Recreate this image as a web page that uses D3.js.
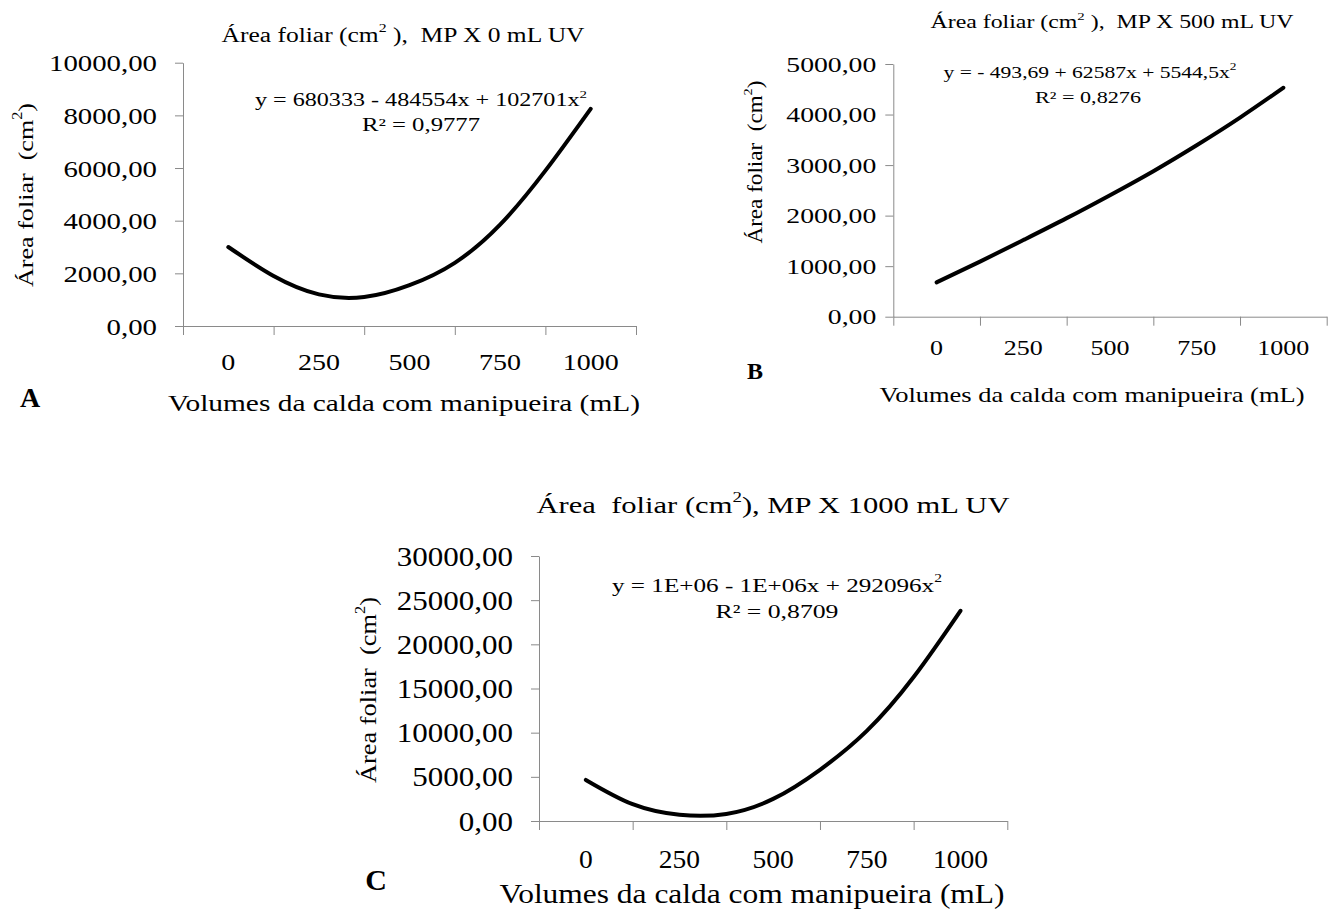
<!DOCTYPE html>
<html>
<head>
<meta charset="utf-8">
<script src="https://cdn.jsdelivr.net/npm/d3@7"></script>
<style>
  body { margin: 0; background: #fff; }
</style>
</head>
<body>
<div id="chart"></div>
<script>
// categories on the x axis (mL) and the volumes where the trend curves were read
const categories = [0, 250, 500, 750, 1000];
const volumes = [0, 125, 250, 375, 500, 625, 750, 875, 1000];

// leaf area (cm2)
const areaA = [3000, 1900, 1200, 1100, 1550, 2400, 3850, 5900, 8250];
const areaB = [680, 1090, 1516, 1950, 2405, 2880, 3393, 3940, 4530];
const areaC = [4650, 1900, 700, 800, 2500, 5800, 10200, 16300, 23800];

// y tick values
const ticksA = [0, 2000, 4000, 6000, 8000, 10000];
const ticksB = [0, 1000, 2000, 3000, 4000, 5000];
const ticksC = [0, 5000, 10000, 15000, 20000, 25000, 30000];

// texts
const titlesA = [["Área foliar (cm"], ["2", true], [" ),  MP X 0 mL UV"]];
const titlesB = [["Área foliar (cm"], ["2", true], [" ),  MP X 500 mL UV"]];
const titlesC = [["Área  foliar (cm"], ["2", true], ["), MP X 1000 mL UV"]];
const eqA = [["y = 680333 - 484554x + 102701x"], ["2", true]];
const eqB = [["y = - 493,69 + 62587x + 5544,5x"], ["2", true]];
const eqC = [["y = 1E+06 - 1E+06x + 292096x"], ["2", true]];
const r2A = "R² = 0,9777", r2B = "R² = 0,8276", r2C = "R² = 0,8709";
const yTitle = [["Área foliar  (cm"], ["2", true], [")"]];
const xTitle = "Volumes da calda com manipueira (mL)";

const width = 1331, height = 910;
const FONT = '"Liberation Serif", "Times New Roman", serif';
const axisColor = "#8a8a8a";
const fmt = d3.formatLocale({ decimal: ",", thousands: ".", grouping: [] }).format(".2f");

const svg = d3.select("#chart").append("svg")
  .attr("width", width).attr("height", height)
  .style("background", "#fff")
  .style("font-family", FONT);

// layout of the three panels
const panels = [
  {
    letter: "A", values: areaA, ticks: ticksA, max: 10000, title: titlesA, eq: eqA, r2: r2A,
    box: { l: 183, r: 636, t: 62.7, b: 326 },
    tickEm: 28.8, tickSize: 24, tickPad: 18,
    xlab: { y: 362, size: 24, em: 28 },
    titlePos: { x: 403, y: 35, w: 363, size: 20 },
    eqPos: { x: 421, y: 100, w: 332, size: 18 },
    r2Pos: { x: 421, y: 125, w: 118, size: 18 },
    yTitlePos: { x: 25, y: 195, w: 184, size: 22 },
    xTitlePos: { x: 404, y: 403, w: 472, size: 24 },
    letterPos: { x: 30, y: 397, size: 28 },
  },
  {
    letter: "B", values: areaB, ticks: ticksB, max: 5000, title: titlesB, eq: eqB, r2: r2B,
    box: { l: 893.3, r: 1326.7, t: 64, b: 316.7 },
    tickEm: 27.7, tickSize: 21, tickPad: 9,
    xlab: { y: 348, size: 21, em: 26 },
    titlePos: { x: 1112, y: 22, w: 363, size: 18 },
    eqPos: { x: 1090, y: 72, w: 293, size: 16 },
    r2Pos: { x: 1088, y: 97, w: 106, size: 16 },
    yTitlePos: { x: 755, y: 162, w: 163, size: 20 },
    xTitlePos: { x: 1092, y: 395, w: 425, size: 21 },
    letterPos: { x: 755, y: 371, size: 24 },
  },
  {
    letter: "C", values: areaC, ticks: ticksC, max: 30000, title: titlesC, eq: eqC, r2: r2C,
    box: { l: 539, r: 1007.3, t: 556, b: 821 },
    tickEm: 31, tickSize: 27, tickPad: 18,
    xlab: { y: 859, size: 26, em: 27.5 },
    titlePos: { x: 773, y: 505, w: 473, size: 24 },
    eqPos: { x: 777, y: 585, w: 330, size: 19 },
    r2Pos: { x: 777, y: 611, w: 123, size: 19 },
    yTitlePos: { x: 368, y: 690, w: 186, size: 24 },
    xTitlePos: { x: 752, y: 894, w: 505, size: 27 },
    letterPos: { x: 376, y: 879, size: 30 },
  },
];

// write a (possibly superscripted) label, squeezed to the measured width
function label(g, parts, pos, opts = {}) {
  const t = g.append("text")
    .style("font-family", FONT)
    .attr("fill", "#000")
    .attr("text-anchor", "middle")
    .attr("dominant-baseline", "central")
    .attr("font-size", pos.size)
    .style("white-space", "pre");
  if (opts.rotate) {
    t.attr("transform", `translate(${pos.x},${pos.y}) rotate(-90)`);
  } else {
    t.attr("x", pos.x).attr("y", pos.y);
  }
  if (typeof parts === "string") parts = [[parts]];
  parts.forEach(([s, sup]) => {
    const ts = t.append("tspan").text(s);
    if (sup) ts.attr("baseline-shift", "super").attr("font-size", pos.size * 0.62);
  });
  if (pos.w) t.attr("textLength", pos.w).attr("lengthAdjust", "spacingAndGlyphs");
  if (opts.bold) t.attr("font-weight", "bold");
  return t;
}

panels.forEach((p) => {
  const g = svg.append("g");

  // categories sit in the middle of 250 mL wide bands
  const x = d3.scaleLinear().domain([-125, 1125]).range([p.box.l, p.box.r]);
  const y = d3.scaleLinear().domain([0, p.max]).range([p.box.b, p.box.t]);
  const bounds = d3.range(-125, 1126, 250);

  // y axis
  const yAxis = g.append("g")
    .attr("transform", `translate(${p.box.l},0)`)
    .call(d3.axisLeft(y).tickValues(p.ticks).tickFormat(fmt)
      .tickSize(8).tickSizeOuter(0).tickPadding(p.tickPad));
  yAxis.attr("font-family", null).attr("font-size", null);
  yAxis.select(".domain").attr("stroke", axisColor);
  yAxis.selectAll(".tick line").attr("stroke", axisColor);
  yAxis.selectAll(".tick text")
    .style("font-family", FONT)
    .attr("font-size", p.tickSize)
    .attr("dy", null)
    .attr("dominant-baseline", "central")
    .each(function () {
      const s = d3.select(this).text();
      d3.select(this)
        .attr("textLength", p.tickEm * (0.5 * (s.length - 1) + 0.25))
        .attr("lengthAdjust", "spacingAndGlyphs");
    });

  // x axis: ticks on the band boundaries
  const xAxis = g.append("g")
    .attr("transform", `translate(0,${p.box.b})`)
    .call(d3.axisBottom(x).tickValues(bounds).tickFormat("")
      .tickSize(9).tickSizeOuter(0));
  xAxis.select(".domain").attr("stroke", axisColor);
  xAxis.selectAll(".tick line").attr("stroke", axisColor);

  // category labels
  g.append("g").selectAll("text")
    .data(categories)
    .join("text")
    .style("font-family", FONT)
    .attr("x", (d) => x(d))
    .attr("y", p.xlab.y)
    .attr("text-anchor", "middle")
    .attr("dominant-baseline", "central")
    .attr("font-size", p.xlab.size)
    .attr("textLength", (d) => p.xlab.em * 0.5 * String(d).length)
    .attr("lengthAdjust", "spacingAndGlyphs")
    .text((d) => d);

  // trend curve
  const pts = volumes.map((v, i) => ({ v: v, a: p.values[i] }));
  g.append("path")
    .datum(pts)
    .attr("fill", "none")
    .attr("stroke", "#000")
    .attr("stroke-width", 4)
    .attr("stroke-linecap", "round")
    .attr("d", d3.line().x((d) => x(d.v)).y((d) => y(d.a)).curve(d3.curveNatural));

  // texts
  label(g, p.title, p.titlePos);
  label(g, p.eq, p.eqPos);
  label(g, p.r2, p.r2Pos);
  label(g, yTitle, p.yTitlePos, { rotate: true });
  label(g, xTitle, p.xTitlePos);
  label(g, p.letter, p.letterPos, { bold: true });
});
</script>
</body>
</html>
